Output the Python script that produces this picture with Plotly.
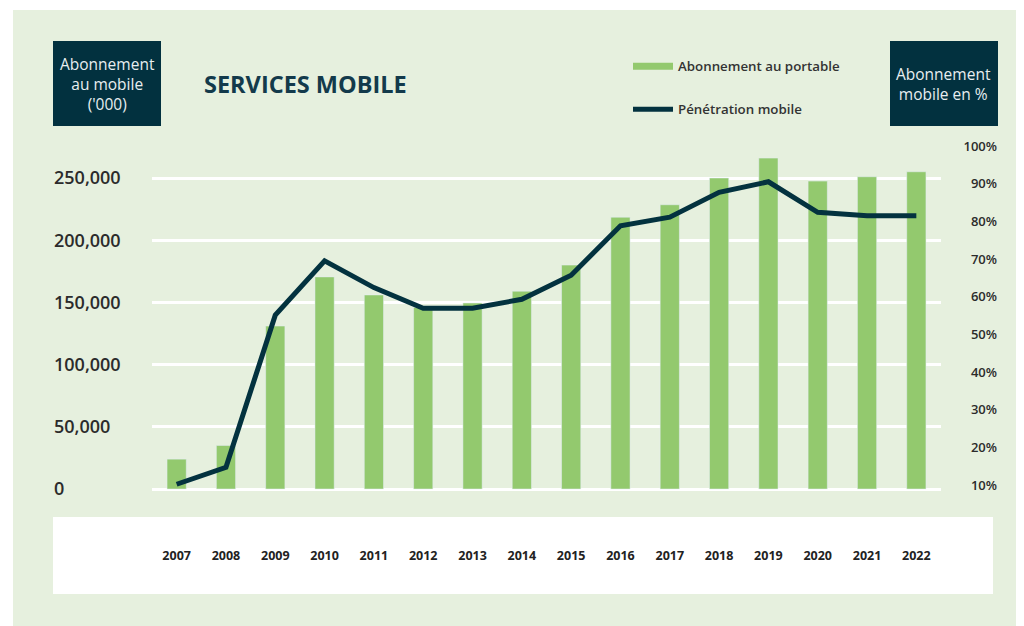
import plotly.graph_objects as go

years = ["2007", "2008", "2009", "2010", "2011", "2012", "2013", "2014",
         "2015", "2016", "2017", "2018", "2019", "2020", "2021", "2022"]
subscriptions = [24000, 35000, 131000, 170500, 156000, 146000, 149500, 159000,
                 180000, 218500, 228500, 250000, 266000, 247500, 251000, 255000]
penetration = [10.2, 14.7, 55.1, 69.5, 62.4, 56.9, 56.9, 59.3,
               65.7, 78.8, 81.1, 87.7, 90.5, 82.4, 81.5, 81.5]
left_ticks = [0, 50000, 100000, 150000, 200000, 250000]
left_labels = ["0", "50,000", "100,000", "150,000", "200,000", "250,000"]
right_ticks = [10, 20, 30, 40, 50, 60, 70, 80, 90, 100]
right_labels = [f"{v}%" for v in right_ticks]

OFF = 8  # page body margin
W, H = 1024 - OFF, 626 - OFF
# plot area in reference-screen pixels
L, R, T, B = 152, 941, 120, 512
pw, ph = R - L, B - T

def px(x):
    return (x - L) / pw

def py(y):
    return (B - y) / ph

BG = "#e6f0de"
BAR = "#93c96e"
LINE = "#03323f"
BOX = "#02313f"
FONT = "Open Sans"

fig = go.Figure()
fig.add_trace(go.Bar(x=years, y=subscriptions, marker_color=BAR, width=0.39,
                     name="Abonnement au portable", showlegend=False, yaxis="y"))
fig.add_trace(go.Scatter(x=[None], y=[None], mode="lines",
                         line=dict(color=BAR, width=7),
                         name="Abonnement au portable", legend="legend"))
fig.add_trace(go.Scatter(x=years, y=penetration, mode="lines", yaxis="y2",
                         line=dict(color=LINE, width=5),
                         name="Pénétration mobile", legend="legend2"))

# left: 0 -> 489 px, 1.244 px per 1000
ymin = -(B - 489) / 1.244 * 1000
ymax = (489 - T) / 1.244 * 1000
# right: p -> 485 - (p-10)*3.767
r_lo = 10 - (B - 485) / 3.767
r_hi = 10 + (485 - T) / 3.767

shapes = [
    dict(type="rect", xref="paper", yref="paper", x0=px(13), x1=px(1040),
         y0=py(650), y1=py(10), fillcolor=BG, line_width=0, layer="below"),
    dict(type="rect", xref="paper", yref="paper", x0=px(53), x1=px(993),
         y0=py(594), y1=py(517), fillcolor="white", line_width=0, layer="below"),
    dict(type="rect", xref="paper", yref="paper", x0=px(53), x1=px(161),
         y0=py(126), y1=py(41), fillcolor=BOX, line_width=0, layer="below"),
    dict(type="rect", xref="paper", yref="paper", x0=px(890), x1=px(998),
         y0=py(126), y1=py(41), fillcolor=BOX, line_width=0, layer="below"),
]

annotations = [
    dict(text="Abonnement<br>au mobile<br>('000)", xref="paper", yref="paper",
         x=px(107), y=py(83.5), xanchor="center", yanchor="middle",
         showarrow=False, align="center",
         font=dict(family=FONT, size=15.5, color="#e8eef0")),
    dict(text="Abonnement<br>mobile en %", xref="paper", yref="paper",
         x=px(944), y=py(84), xanchor="center", yanchor="middle",
         showarrow=False, align="center",
         font=dict(family=FONT, size=15.5, color="#e8eef0")),
    dict(text="<b>SERVICES MOBILE</b>", xref="paper", yref="paper",
         x=px(202), y=py(84), xanchor="left", yanchor="middle", showarrow=False,
         font=dict(family=FONT, size=23.5, color="#133a4b")),
]

fig.update_layout(
    width=W, height=H,
    margin=dict(l=L - OFF, r=W - (R - OFF), t=T - OFF, b=H - (B - OFF), pad=0),
    paper_bgcolor="white", plot_bgcolor="rgba(0,0,0,0)",
    shapes=shapes, annotations=annotations,
    xaxis=dict(type="category", range=[-0.5, 15.5], showgrid=False,
               showline=False, zeroline=False, ticks="",
               ticklabelstandoff=34,
               tickfont=dict(family=FONT, size=12.5, color="#222222", weight=700)),
    yaxis=dict(range=[ymin, ymax], tickvals=left_ticks, ticktext=left_labels,
               showgrid=True, gridcolor="white", gridwidth=3, zeroline=False,
               showline=False, ticks="", ticklabelposition="inside",
               ticklabelstandoff=-101,
               tickfont=dict(family=FONT, size=18, color="#2b2b2b", weight=600)),
    yaxis2=dict(range=[r_lo, r_hi], tickvals=right_ticks, ticktext=right_labels,
                overlaying="y", side="right", showgrid=False, zeroline=False,
                showline=False, ticks="", ticklabelposition="inside",
                ticklabelstandoff=-59,
                tickfont=dict(family=FONT, size=13, color="#2b2b2b", weight=600)),
    legend=dict(x=px(628), y=py(51), xanchor="left", yanchor="top",
                bgcolor="rgba(0,0,0,0)", itemwidth=40,
                font=dict(family=FONT, size=13.3, color="#333333", weight=600)),
    legend2=dict(x=px(628), y=py(94), xanchor="left", yanchor="top",
                 bgcolor="rgba(0,0,0,0)", itemwidth=40,
                 font=dict(family=FONT, size=13.3, color="#333333", weight=600)),
)

fig.write_html("out.html")
